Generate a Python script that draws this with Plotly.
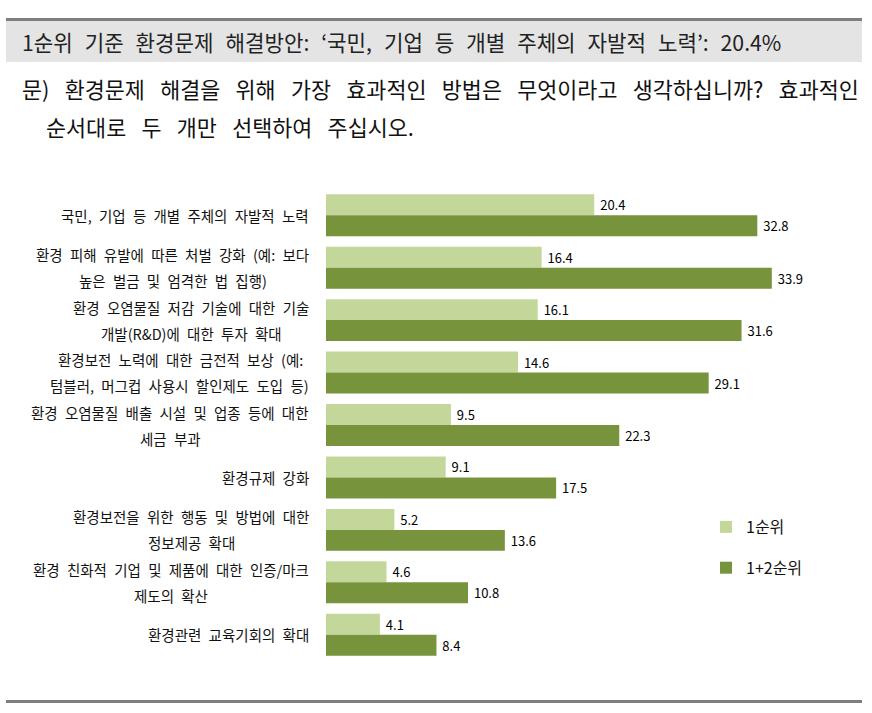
import plotly.graph_objects as go

categories = [
    "국민, 기업 등 개별 주체의 자발적 노력",
    "환경 피해 유발에 따른 처벌 강화 (예: 보다<br>높은 벌금 및 엄격한 법 집행)",
    "환경 오염물질 저감 기술에 대한 기술<br>개발(R&D)에 대한 투자 확대",
    "환경보전 노력에 대한 금전적 보상 (예:<br>텀블러, 머그컵 사용시 할인제도 도입 등)",
    "환경 오염물질 배출 시설 및 업종 등에 대한<br>세금 부과",
    "환경규제 강화",
    "환경보전을 위한 행동 및 방법에 대한<br>정보제공 확대",
    "환경 친화적 기업 및 제품에 대한 인증/마크<br>제도의 확산",
    "환경관련 교육기회의 확대",
]
rank1 = [20.4, 16.4, 16.1, 14.6, 9.5, 9.1, 5.2, 4.6, 4.1]
rank12 = [32.8, 33.9, 31.6, 29.1, 22.3, 17.5, 13.6, 10.8, 8.4]
series_names = ["1순위", "1+2순위"]
header = "1순위 기준 환경문제 해결방안: ‘국민, 기업 등 개별 주체의 자발적 노력’: 20.4%"
question = ["문) 환경문제 해결을 위해 가장 효과적인 방법은 무엇이라고 생각하십니까? 효과적인",
            "순서대로 두 개만 선택하여 주십시오."]

FONT = "Noto Sans CJK KR"
W, H = 872, 713
ML, MR, MT, MB = 326, 20, 189, 52
PW, PH = W - ML - MR, H - MT - MB
LBL_SIZE = 14.5
LBL_RIGHT = 311


def px(x):
    return (x - ML) / PW


def py(y):
    return (H - MB - y) / PH


def wide(s, sp="\u2002"):
    # the reference typesetting uses wide word spacing
    return s.replace(" ", sp)


CHAR_EM = {"\u2002": 0.5, " ": 0.224, "(": 0.3, ")": 0.3, ":": 0.23, ",": 0.23,
           "/": 0.35, "R": 0.59, "&": 0.68, "D": 0.66}


def est_width(s, size):
    w = 0.0
    for ch in s:
        if "\uac00" <= ch <= "\ud7a3":
            w += 0.935
        elif ch.isdigit():
            w += 0.553
        else:
            w += CHAR_EM.get(ch, 0.55)
    return w * size


fig = go.Figure()
colors = ["#c4d79b", "#77933c"]
for name, vals, col in zip(series_names, [rank1, rank12], colors):
    fig.add_trace(go.Bar(
        y=categories, x=vals, orientation="h", name=name,
        marker=dict(color=col, line=dict(width=0)),
        texttemplate="\u00a0%{x:.1f}", textposition="outside",
        textfont=dict(family=FONT, size=13, color="#000"),
        cliponaxis=False, legendgroup=name,
    ))

annotations = []
LBL = dict(family=FONT, size=LBL_SIZE, color="#111")
for cat in categories:
    lines = [wide(t) for t in cat.split("<br>")]
    if len(lines) == 1:
        annotations.append(dict(x=px(LBL_RIGHT), xref="paper", y=cat, yref="y",
                                text=lines[0], showarrow=False, xanchor="right", font=LBL))
        continue
    widths = [est_width(t, LBL_SIZE) for t in lines]
    longest = widths.index(max(widths))
    centre = LBL_RIGHT - max(widths) / 2
    for i, (t, shift) in enumerate(zip(lines, [13, -13])):
        if i == longest:
            annotations.append(dict(x=px(LBL_RIGHT), xref="paper", y=cat, yref="y",
                                    text=t, showarrow=False, xanchor="right",
                                    yshift=shift, font=LBL))
        else:
            annotations.append(dict(x=px(centre), xref="paper", y=cat, yref="y",
                                    text=t, showarrow=False, xanchor="center",
                                    yshift=shift, font=LBL))

annotations.append(dict(x=px(20), xref="paper", y=py(41.5), yref="paper",
                        text=wide(header, "\u2002\u200a"),
                        showarrow=False, xanchor="left", yanchor="middle",
                        font=dict(family=FONT, size=21.2, color="#222")))
annotations.append(dict(x=px(20), xref="paper", y=py(89), yref="paper",
                        text=wide(question[0], "\u2002\u2009"),
                        showarrow=False, xanchor="left", yanchor="middle",
                        font=dict(family=FONT, size=21.8, color="#111")))
annotations.append(dict(x=px(44), xref="paper", y=py(127), yref="paper",
                        text=wide(question[1], "\u2002\u2009"),
                        showarrow=False, xanchor="left", yanchor="middle",
                        font=dict(family=FONT, size=21.8, color="#111")))

shapes = [
    dict(type="line", xref="paper", yref="paper", x0=px(6), x1=px(862), y0=py(19.5), y1=py(19.5),
         line=dict(color="#7f7f7f", width=3)),
    dict(type="rect", xref="paper", yref="paper", x0=px(6), x1=px(862), y0=py(21), y1=py(62),
         fillcolor="#e4e4e4", line=dict(width=0), layer="below"),
    dict(type="line", xref="paper", yref="paper", x0=px(6), x1=px(862), y0=py(701.5), y1=py(701.5),
         line=dict(color="#7f7f7f", width=3)),
]

fig.update_layout(
    width=W, height=H, margin=dict(l=ML, r=MR, t=MT, b=MB, autoexpand=False),
    paper_bgcolor="white", plot_bgcolor="white",
    barmode="group", bargap=0.2, bargroupgap=0,
    xaxis=dict(range=[0, 40], showgrid=False, zeroline=False, showticklabels=False, showline=False),
    yaxis=dict(categoryorder="array", categoryarray=categories, autorange="reversed",
               showticklabels=False, showgrid=False, zeroline=False, showline=False),
    legend=dict(x=px(706), y=py(510), xanchor="left", yanchor="top",
                font=dict(family=FONT, size=16, color="#111"),
                tracegroupgap=17, bgcolor="rgba(0,0,0,0)"),
    annotations=annotations, shapes=shapes, showlegend=True,
)

fig.write_html("out.html", config={"displayModeBar": False},
               post_script="document.body.style.margin='0px';")
